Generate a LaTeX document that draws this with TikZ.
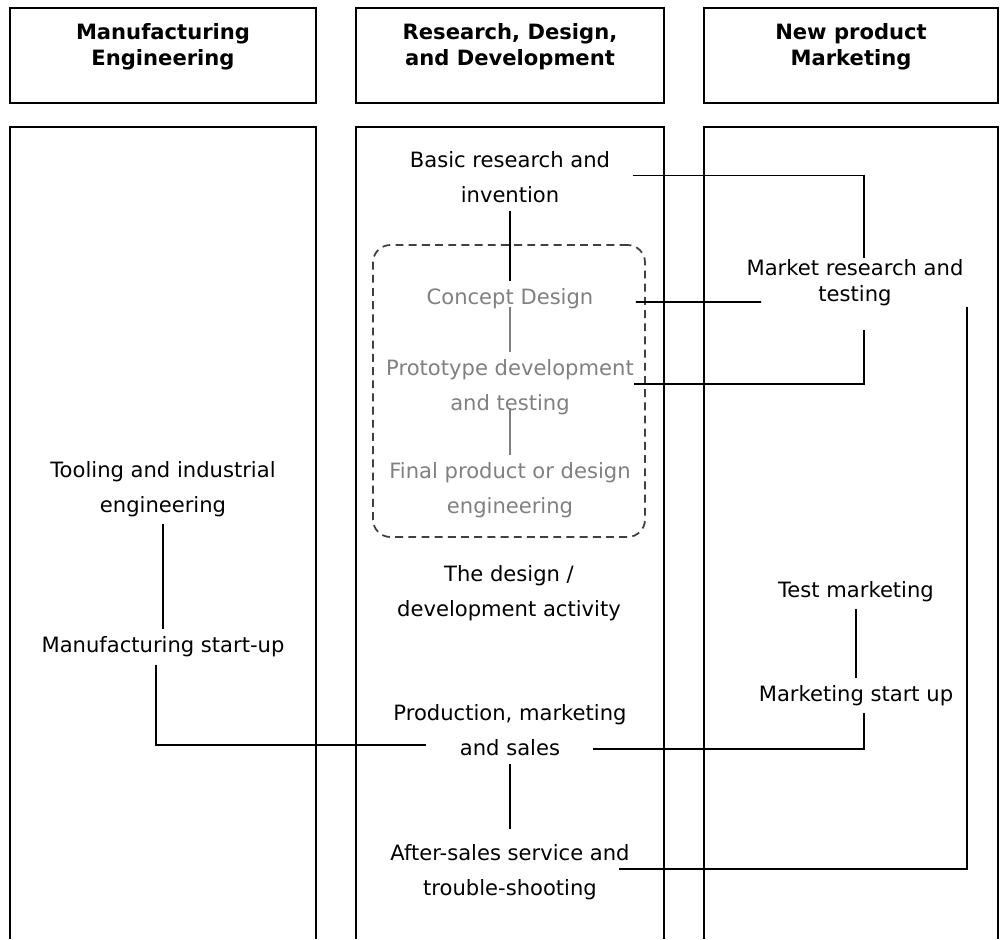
\documentclass[tikz,border=0pt]{standalone}
\usepackage{fontspec}
\setmainfont{DejaVu Sans}
\usetikzlibrary{calc}

\begin{document}
\begin{tikzpicture}[x=0.2mm,y=-0.2mm,
  every node/.style={align=center,font=\fontsize{12}{20}\selectfont},
  headbox/.style={draw,line width=1.1pt,font=\bfseries\fontsize{12}{14.4}\selectfont,
    inner sep=0pt,minimum height=19mm,text height=11.4mm,text depth=7.6mm},
  lane/.style={line width=1.1pt},
  activity/.style={inner sep=4pt},
  faded/.style={activity,text=black!50},
  groupbox/.style={draw=black!75,line width=1pt,dash pattern=on 4.5pt off 3pt,
    rounded corners=3.5mm,minimum width=54.4mm,minimum height=58.4mm},
  link/.style={line width=1.1pt},
  fadedlink/.style={link,draw=black!50}]

  \useasboundingbox (0,0) rectangle (1000,939);

  % lane headers
  \node[headbox,minimum width=61.2mm] (hmfg) at (163,55.5) {Manufacturing\\Engineering};
  \node[headbox,minimum width=61.6mm] (hrdd) at (510,55.5) {Research, Design,\\and Development};
  \node[headbox,minimum width=58.8mm] (hmkt) at (851,55.5) {New product\\Marketing};

  % lanes, open at the bottom
  \draw[lane] (10,939) |- (316,127) -- (316,939);
  \draw[lane] (356,939) |- (664,127) -- (664,939);
  \draw[lane] (704,939) |- (998,127) -- (998,939);

  \node[groupbox] (design) at (509,391) {};

  % manufacturing engineering
  \node[activity] (tooling) at (163,489) {Tooling and industrial\\engineering};
  \node[activity] (mstart) at (163,647) {Manufacturing start-up};

  % research, design and development
  \node[activity] (basic) at (510,177.5) {Basic research and\\invention};
  \node[faded] (concept) at (510,299) {Concept Design};
  \node[faded] (proto) at (510,387) {Prototype development\\and testing};
  \node[faded] (final) at (510,490) {Final product or design\\engineering};
  \node[activity] (activ) at (509,593) {The design /\\development activity};
  \node[activity] (prod) at (510,730.5) {Production, marketing\\and sales};
  \node[activity] (after) at (510,872) {After-sales service and\\trouble-shooting};

  % new product marketing
  \node[activity,font=\fontsize{12}{14.7}\selectfont] (mkt) at (855,282.5) {Market research and\\testing};
  \node[activity] (testmk) at (856,591.5) {Test marketing};
  \node[activity] (mkstart) at (856,695.5) {Marketing start up};

  \draw[link] (basic) -- (concept);
  \draw[fadedlink] ([yshift=2mm]concept.south) -- (proto);
  \draw[fadedlink] ([yshift=2.8mm]proto.south) -- (final);
  \draw[link] (prod) -- ([yshift=1.6mm]after.north);
  \draw[link] (tooling) -- (mstart);
  \draw[link] (testmk) -- (mkstart);

  \draw[link] ($(basic.east)+(16,-2)$) -| ($(mkt.north)+(9,6)$);
  \draw[link] ($(concept.east)+(35,3)$) -- ($(mkt.west)+(22,19.5)$);
  \draw[link] ($(proto.east)+(-7,-3)$) -| ($(mkt.south)+(9,17)$);
  \draw[link] ($(after.east)+(-18,-3)$) -| ($(mkt.east)+(-4,24)$);
  \draw[link] ([xshift=-1.4mm]mstart.south) |- ($(prod.west)+(40,14.5)$);
  \draw[link] ([xshift=1.6mm]mkstart.south) |- ($(prod.east)+(-41,18.5)$);
\end{tikzpicture}
\end{document}
